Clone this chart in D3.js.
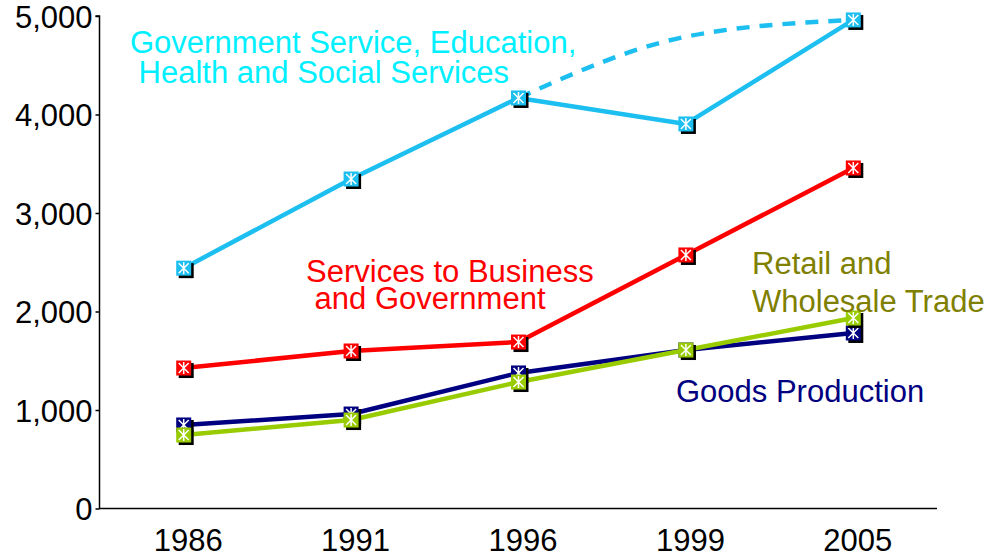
<!DOCTYPE html>
<html>
<head>
<meta charset="utf-8">
<script src="https://cdn.jsdelivr.net/npm/d3@7"></script>
<style>
  html, body { margin: 0; padding: 0; background: #fff; }
  svg { display: block; }
  text { font-family: "Liberation Sans", Arial, sans-serif; }
</style>
</head>
<body>
<svg id="chart" width="992" height="557"></svg>
<script>
// Years on the horizontal axis
const years = ["1986", "1991", "1996", "1999", "2005"];

// Employment by sector
const govServices   = [2440, 3345, 4168, 3904, 4960];
const bizServices   = [1426, 1599, 1690, 2574, 3457];
const goodsProd     = [848, 959, 1376, 1609, 1782];
const retailTrade   = [746, 898, 1284, 1609, 1934];

// Projected trend for government services (dashed)
const govTrendYears = ["1996", "1999", "2005"];
const govTrend      = [4168, 4790, 4960];

// Y axis ticks
const yTicks = [0, 1000, 2000, 3000, 4000, 5000];

const svg = d3.select("#chart");

const x = d3.scalePoint().domain(years).range([100, 937]).padding(0.5);
const y = d3.scaleLinear().domain([0, 5000]).range([508.5, 16]);

// Axes
const yAxis = svg.append("g")
  .attr("transform", "translate(99.5,0)")
  .call(d3.axisLeft(y).tickValues(yTicks).tickSize(4).tickPadding(3)
    .tickFormat(d3.format(",")));
yAxis.select(".domain").attr("stroke", "#000").attr("stroke-width", 1.5)
  .attr("d", `M-4,${y(5000)}H0V${y(0)}`);
yAxis.selectAll(".tick line").attr("stroke", "#000").attr("stroke-width", 1.5);
yAxis.selectAll(".tick text").attr("fill", "#000").style("font-size", "31px")
  .attr("dy", "0.36em");

const xAxis = svg.append("g")
  .attr("transform", `translate(0,${y(0)})`)
  .call(d3.axisBottom(x).tickSize(0).tickPadding(0));
xAxis.select(".domain").attr("stroke", "#000").attr("stroke-width", 1.5)
  .attr("d", "M99,0H937");
xAxis.selectAll(".tick text").attr("fill", "#000").style("font-size", "31px")
  .attr("y", 42).attr("dy", 0).attr("dx", 4);

// Series
const series = [
  { values: govServices,  color: "#1cbff0" },
  { values: bizServices,  color: "#ff0000" },
  { values: goodsProd,    color: "#000080" },
  { values: retailTrade,  color: "#99cc00" }
];

const line = d3.line().x(d => x(d.year)).y(d => y(d.value));

// Dashed projection for government services
svg.append("path")
  .datum(govTrendYears.map((yr, i) => ({ year: yr, value: govTrend[i] })))
  .attr("fill", "none")
  .attr("stroke", "#1cbff0")
  .attr("stroke-width", 4.5)
  .attr("stroke-dasharray", "13,10")
  .attr("d", d3.line().x(d => x(d.year)).y(d => y(d.value)).curve(d3.curveMonotoneX));

series.forEach(s => {
  const pts = years.map((yr, i) => ({ year: yr, value: s.values[i] }));
  svg.append("path")
    .datum(pts)
    .attr("fill", "none")
    .attr("stroke", s.color)
    .attr("stroke-width", 4.5)
    .attr("stroke-linejoin", "round")
    .attr("d", line);

  const m = svg.append("g").selectAll("g").data(pts).join("g")
    .attr("transform", d => `translate(${x(d.year)},${y(d.value)})`);
  m.append("rect").attr("x", -5).attr("y", -5).attr("width", 15).attr("height", 15)
    .attr("fill", "#000");
  m.append("rect").attr("x", -7.5).attr("y", -7.5).attr("width", 15).attr("height", 15)
    .attr("fill", s.color);
  m.append("path")
    .attr("d", "M0,-6V6M-5,-5L5,5M-5,5L5,-5")
    .attr("stroke", "#fff").attr("stroke-width", 1.5).attr("fill", "none");
});

// Series labels
const labels = [
  { lines: ["Government Service, Education,", " Health and Social Services"], x: 130, y: 53, dy: 30, color: "#00f0ff" },
  { lines: ["Services to Business", " and Government"], x: 306, y: 282, dy: 27, color: "#ff0000" },
  { lines: ["Retail and", "Wholesale Trade"], x: 752, y: 274, dy: 38, color: "#808000" },
  { lines: ["Goods Production"], x: 676, y: 402, dy: 0, color: "#000080" }
];
labels.forEach(l => {
  const t = svg.append("text").attr("x", l.x).attr("y", l.y)
    .attr("fill", l.color).style("font-size", "31px").attr("xml:space", "preserve");
  l.lines.forEach((ln, i) => {
    t.append("tspan").attr("x", l.x).attr("y", l.y + i * l.dy).text(ln);
  });
});
</script>
</body>
</html>
